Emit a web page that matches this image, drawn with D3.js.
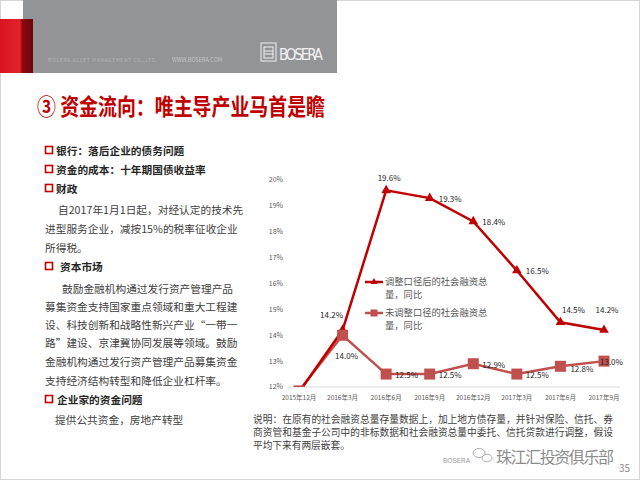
<!DOCTYPE html>
<html><head><meta charset="utf-8">
<script src="https://cdn.jsdelivr.net/npm/d3@7"></script>
<style>body{margin:0;background:#fff}svg{display:block}</style>
</head><body><svg id="c" width="640" height="480"></svg>
<script>
const categories = ["2015年12月","2016年3月","2016年6月","2016年9月","2016年12月","2017年3月","2017年6月","2017年9月"];
const adjusted   = [11.8, 14.2, 19.6, 19.3, 18.4, 16.5, 14.5, 14.2];
const unadjusted = [11.85, 14.0, 12.5, 12.5, 12.9, 12.5, 12.8, 13.0];
const adjLabelPos   = [null, "aboveLeft", "above", "right", "right", "right", "aboveRight", "aboveHigh"];
const unadjLabelPos = [null, "below", "right", "right", "right", "right", "rightLow", "over"];
const yTicks = [12, 13, 14, 15, 16, 17, 18, 19, 20];
const seriesNames = ["调整口径后的社会融资总量，同比", "未调整口径的社会融资总量，同比"];

const FONT = "'Noto Sans CJK SC','Noto Sans',sans-serif";
const svg = d3.select("#c").style("font-family", FONT);
svg.append("rect").attr("x",0.5).attr("y",0.5).attr("width",639).attr("height",479).attr("fill","#fff").attr("stroke","#d4d4d4");

// banner
svg.append("rect").attr("x",23).attr("y",0).attr("width",314).attr("height",73).attr("fill","#939498");
const defs = svg.append("defs");
const g1 = defs.append("linearGradient").attr("id","rg").attr("x1",0).attr("x2",1).attr("y1",0).attr("y2",0);
g1.append("stop").attr("offset","0").attr("stop-color","#d8141e");
g1.append("stop").attr("offset","0.6").attr("stop-color","#e3222b");
g1.append("stop").attr("offset","0.68").attr("stop-color","#8a0a0f");
g1.append("stop").attr("offset","1").attr("stop-color","#6e0407");
svg.append("rect").attr("x",0).attr("y",19).attr("width",33).attr("height",54).attr("fill","url(#rg)");
svg.append("text").attr("x",48).attr("y",62).attr("font-size",5).attr("fill","#b4b5b8").attr("letter-spacing",0.6).text("BOSERA ASSET MANAGEMENT CO.,LTD.");
svg.append("text").attr("x",172).attr("y",62).attr("font-size",5.5).attr("fill","#c4c5c8").text("WWW.BOSERA.COM");
const logo = svg.append("g").attr("fill","none").attr("stroke","#f0f0f0").attr("stroke-width",1);
logo.append("rect").attr("x",261).attr("y",43).attr("width",15).attr("height",18);
logo.append("rect").attr("x",264).attr("y",47).attr("width",9).attr("height",11);
logo.append("line").attr("x1",264).attr("x2",273).attr("y1",51).attr("y2",51);
logo.append("line").attr("x1",264).attr("x2",273).attr("y1",54).attr("y2",54);
svg.append("text").attr("x",279).attr("y",60).attr("font-size",15).attr("fill","#f2f2f2").attr("font-family","'Liberation Sans Narrow','DejaVu Sans Condensed',sans-serif").attr("textLength",44).text("BOSERA");

// title
svg.append("text").attr("x",37).attr("y",115).attr("font-size",23).attr("font-weight","bold").attr("fill","#c00000")
  .attr("textLength",288).attr("lengthAdjust","spacingAndGlyphs").text("③ 资金流向：唯主导产业马首是瞻");

// left text
const lines = [
  {t:"银行：落后企业的债务问题", x:56, y:151, b:true, bullet:true},
  {t:"资金的成本：十年期国债收益率", x:56, y:170, b:true, bullet:true},
  {t:"财政", x:56, y:189, b:true, bullet:true},
  {t:"自2017年1月1日起，对经认定的技术先", x:58, y:210},
  {t:"进型服务企业，减按15%的税率征收企业", x:45, y:229},
  {t:"所得税。", x:45, y:248},
  {t:"资本市场", x:60, y:267, b:true, bullet:true},
  {t:"鼓励金融机构通过发行资产管理产品", x:62, y:289},
  {t:"募集资金支持国家重点领域和重大工程建", x:45, y:307},
  {t:"设、科技创新和战略性新兴产业“一带一", x:45, y:325},
  {t:"路”建设、京津冀协同发展等领域。鼓励", x:45, y:343},
  {t:"金融机构通过发行资产管理产品募集资金", x:45, y:362},
  {t:"支持经济结构转型和降低企业杠杆率。", x:45, y:381},
  {t:"企业家的资金问题", x:57, y:400, b:true, bullet:true},
  {t:"提供公共资金，房地产转型", x:55, y:420}
];
const lt = svg.append("g");
lines.forEach(l=>{
  if(l.bullet) lt.append("rect").attr("x",45.5).attr("y",l.y-4.5).attr("width",7).attr("height",7).attr("fill","#fff").attr("stroke","#c00000").attr("stroke-width",1.6);
  lt.append("text").attr("x",l.x).attr("y",l.y).attr("dy","0.35em").attr("font-size",10.7)
    .attr("font-weight", l.b ? "bold" : "normal").attr("fill", l.b ? "#262626" : "#404040").text(l.t);
});

// chart
const x = d3.scalePoint().domain(categories).range([299, 604]);
const y = d3.scaleLinear().domain([12, 20]).range([387, 180]);
const ax = svg.append("g");
ax.append("line").attr("x1",288).attr("x2",620).attr("y1",y(12)).attr("y2",y(12)).attr("stroke","#d9d9d9");
ax.selectAll(".yt").data(yTicks).enter().append("text").attr("x",283).attr("y",d=>y(d)).attr("dy","0.35em")
  .attr("text-anchor","end").attr("font-size",7).attr("fill","#595959").text(d=>d+"%");
ax.selectAll(".xt").data(categories).enter().append("text").attr("x",d=>x(d)).attr("y",400)
  .attr("text-anchor","middle").attr("font-size",6.5).attr("fill","#595959").text(d=>d);

defs.append("clipPath").attr("id","pc").append("rect").attr("x",280).attr("y",160).attr("width",360).attr("height",227);
const plot = svg.append("g").attr("clip-path","url(#pc)");
const line = d3.line().x((d,i)=>x(categories[i])).y(d=>y(d));
const C1 = "#c00000", C2 = "#c0504d";
plot.append("path").datum(unadjusted).attr("d",line).attr("fill","none").attr("stroke",C2).attr("stroke-width",2.5);
plot.append("path").datum(adjusted).attr("d",line).attr("fill","none").attr("stroke",C1).attr("stroke-width",2.5);
const tri = d3.symbol().type(d3.symbolTriangle).size(40);
plot.selectAll(".m1").data(adjusted).enter().append("path").attr("d",tri)
  .attr("transform",(d,i)=>`translate(${x(categories[i])},${y(d)})`).attr("fill",C1);
plot.selectAll(".m2").data(unadjusted).enter().append("rect")
  .attr("x",(d,i)=>x(categories[i])-5.5).attr("y",d=>y(d)-5.5).attr("width",11).attr("height",11).attr("fill",C2);

const off = {aboveLeft:[-11,-15,"middle"], above:[3,-12,"middle"], right:[9,1,"start"], aboveRight:[13,-12,"middle"],
  aboveHigh:[3,-20,"middle"], below:[4,21,"middle"], rightLow:[10,3,"start"], over:[-4,1,"start"]};
function labels(data, pos){
  const items = data.map((v,i)=>({v, c:categories[i], p:pos[i]})).filter(d=>d.p);
  svg.append("g").selectAll("text").data(items).enter().append("text")
    .attr("x",d=>x(d.c)+off[d.p][0]).attr("y",d=>y(d.v)+off[d.p][1]).attr("dy","0.35em")
    .attr("text-anchor",d=>off[d.p][2]).attr("font-size",8).attr("fill","#262626").text(d=>d.v.toFixed(1)+"%");
}
labels(adjusted, adjLabelPos);
labels(unadjusted, unadjLabelPos);

// legend
const lg = svg.append("g");
[[C1,282],[C2,313]].forEach(([c,yy],k)=>{
  lg.append("line").attr("x1",365).attr("x2",383).attr("y1",yy).attr("y2",yy).attr("stroke",c).attr("stroke-width",2.5);
  if(k===0) lg.append("path").attr("d",d3.symbol().type(d3.symbolTriangle).size(20)).attr("transform",`translate(374,${yy})`).attr("fill",c);
  else lg.append("rect").attr("x",370.5).attr("y",yy-3.5).attr("width",7).attr("height",7).attr("fill",c);
  const nm = seriesNames[k];
  lg.append("text").attr("x",385).attr("y",yy).attr("dy","0.35em").attr("font-size",9.3).attr("fill","#595959").text(nm.slice(0,11));
  lg.append("text").attr("x",385).attr("y",yy+13).attr("dy","0.35em").attr("font-size",9.3).attr("fill","#595959").text(nm.slice(11));
});

// note
const notes = ["说明：在原有的社会融资总量存量数据上，加上地方债存量，并针对保险、信托、券",
  "商资管和基金子公司中的非标数据和社会融资总量中委托、信托贷款进行调整，假设",
  "平均下来有两层嵌套。"];
notes.forEach((t,i)=>{
  const tx = svg.append("text").attr("x",253).attr("y",420+i*13).attr("dy","0.35em").attr("font-size",9.7).attr("fill","#404040").text(t);
  if(i<2) tx.attr("textLength",360);
});

// watermark
svg.append("text").attr("x",443).attr("y",463).attr("font-size",6.5).attr("fill","#9a9a9a").attr("font-family","'Liberation Sans',sans-serif").text("BOSERA");
const wc = svg.append("g").attr("fill","none").attr("stroke","#999").attr("stroke-width",0.8);
wc.append("ellipse").attr("cx",479).attr("cy",453).attr("rx",6).attr("ry",4.5);
wc.append("ellipse").attr("cx",487).attr("cy",458).attr("rx",5).attr("ry",3.8);
svg.append("text").attr("x",496).attr("y",457).attr("dy","0.35em").attr("font-size",16).attr("fill","#8c8c8c").attr("textLength",118).text("珠江汇投资俱乐部");
svg.append("text").attr("x",619).attr("y",468).attr("dy","0.35em").attr("font-size",10).attr("fill","#8c8c8c").text("35");
</script></body></html>
